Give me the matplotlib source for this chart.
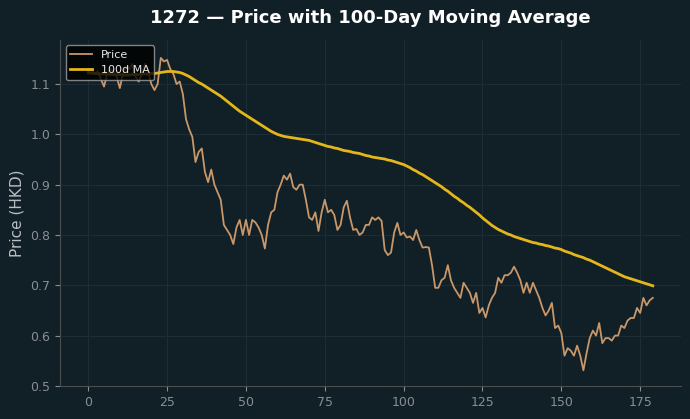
import matplotlib.pyplot as plt

ticker = "1272"
days = list(range(180))

price = [
    1.125, 1.13, 1.12, 1.125, 1.11, 1.095, 1.12, 1.13, 1.125, 1.115,
    1.092, 1.12, 1.135, 1.13, 1.14, 1.115, 1.105, 1.12, 1.14, 1.125,
    1.10, 1.088, 1.10, 1.152, 1.145, 1.148, 1.13, 1.12, 1.10, 1.105,
    1.08, 1.03, 1.01, 0.995, 0.945, 0.965, 0.972, 0.925, 0.905, 0.93,
    0.90, 0.885, 0.87, 0.82, 0.81, 0.80, 0.782, 0.815, 0.83, 0.80,
    0.83, 0.80, 0.83, 0.825, 0.815, 0.80, 0.773, 0.82, 0.845, 0.85,
    0.885, 0.90, 0.918, 0.91, 0.922, 0.895, 0.89, 0.90, 0.90, 0.87,
    0.835, 0.83, 0.845, 0.808, 0.845, 0.87, 0.845, 0.85, 0.84, 0.81,
    0.82, 0.855, 0.868, 0.835, 0.81, 0.812, 0.80, 0.805, 0.82, 0.82,
    0.835, 0.83, 0.835, 0.828, 0.77, 0.76, 0.765, 0.805, 0.824, 0.80,
    0.805, 0.795, 0.797, 0.79, 0.81, 0.79, 0.775, 0.776, 0.775, 0.74,
    0.695, 0.695, 0.71, 0.715, 0.74, 0.71, 0.695, 0.685, 0.675, 0.705,
    0.695, 0.685, 0.665, 0.685, 0.645, 0.655, 0.636, 0.66, 0.675, 0.685,
    0.715, 0.705, 0.72, 0.72, 0.725, 0.737, 0.725, 0.71, 0.685, 0.705,
    0.685, 0.705, 0.69, 0.675, 0.655, 0.64, 0.65, 0.665, 0.615, 0.62,
    0.605, 0.56, 0.575, 0.57, 0.56, 0.58, 0.56, 0.531, 0.565, 0.595,
    0.61, 0.60, 0.625, 0.585, 0.595, 0.595, 0.59, 0.60, 0.60, 0.62,
    0.615, 0.63, 0.635, 0.635, 0.655, 0.645, 0.675, 0.66, 0.67, 0.675,
]

ma100 = [
    1.122, 1.122, 1.121, 1.121, 1.120, 1.120, 1.120, 1.119, 1.119, 1.119,
    1.119, 1.118, 1.118, 1.118, 1.119, 1.119, 1.119, 1.120, 1.120, 1.120,
    1.121, 1.121, 1.122, 1.123, 1.124, 1.125, 1.125, 1.125, 1.124, 1.123,
    1.121, 1.118, 1.115, 1.111, 1.107, 1.103, 1.100, 1.096, 1.092, 1.088,
    1.084, 1.080, 1.076, 1.071, 1.066, 1.061, 1.056, 1.051, 1.046, 1.042,
    1.038, 1.034, 1.030, 1.026, 1.022, 1.018, 1.014, 1.010, 1.006, 1.003,
    1.000, 0.998, 0.996, 0.995, 0.994, 0.993, 0.992, 0.991, 0.990, 0.989,
    0.988, 0.986, 0.984, 0.982, 0.980, 0.978, 0.976, 0.975, 0.973, 0.972,
    0.970, 0.968, 0.967, 0.966, 0.964, 0.963, 0.962, 0.960, 0.958, 0.957,
    0.955, 0.954, 0.953, 0.952, 0.951, 0.949, 0.948, 0.946, 0.944, 0.942,
    0.940, 0.937, 0.934, 0.930, 0.927, 0.923, 0.920, 0.916, 0.912, 0.908,
    0.904, 0.900, 0.896, 0.891, 0.887, 0.882, 0.877, 0.873, 0.868, 0.864,
    0.859, 0.855, 0.850, 0.845, 0.840, 0.834, 0.829, 0.824, 0.819, 0.815,
    0.811, 0.808, 0.805, 0.802, 0.800, 0.797, 0.795, 0.793, 0.791, 0.789,
    0.787, 0.785, 0.784, 0.782, 0.781, 0.779, 0.778, 0.776, 0.774, 0.773,
    0.771, 0.768, 0.766, 0.764, 0.761, 0.759, 0.757, 0.755, 0.752, 0.750,
    0.747, 0.744, 0.741, 0.738, 0.735, 0.732, 0.729, 0.726, 0.723, 0.720,
    0.717, 0.715, 0.713, 0.711, 0.709, 0.707, 0.705, 0.703, 0.701, 0.699,
]

bg = "#111f26"
fig = plt.figure(figsize=(6.9, 4.19), dpi=100, facecolor=bg)
ax = fig.add_axes([0.087, 0.079, 0.900, 0.826], facecolor=bg)

ax.plot(days, price, color="#c8976a", lw=1.3, label="Price")
ax.plot(days, ma100, color="#e3b61c", lw=2.0, label="100d MA")

ax.set_ylim(0.5, 1.188)
ax.grid(True, color="#1d2d35", lw=0.8)
for s in ["top", "right"]:
    ax.spines[s].set_visible(False)
for s in ["left", "bottom"]:
    ax.spines[s].set_color("#4a4e50")
ax.tick_params(colors="#888f93", labelsize=9)
ax.set_ylabel("Price (HKD)", color="#b8bec2", fontsize=11)
ax.set_title(f"{ticker} — Price with 100-Day Moving Average", color="white",
             fontsize=13, fontweight="bold", pad=12)

leg = ax.legend(loc="upper left", fontsize=8, facecolor="black", edgecolor="#a0a0a0",
                framealpha=0.8)
for t in leg.get_texts():
    t.set_color("#e8e8e8")

plt.savefig("out.png", dpi=100, facecolor=bg)
